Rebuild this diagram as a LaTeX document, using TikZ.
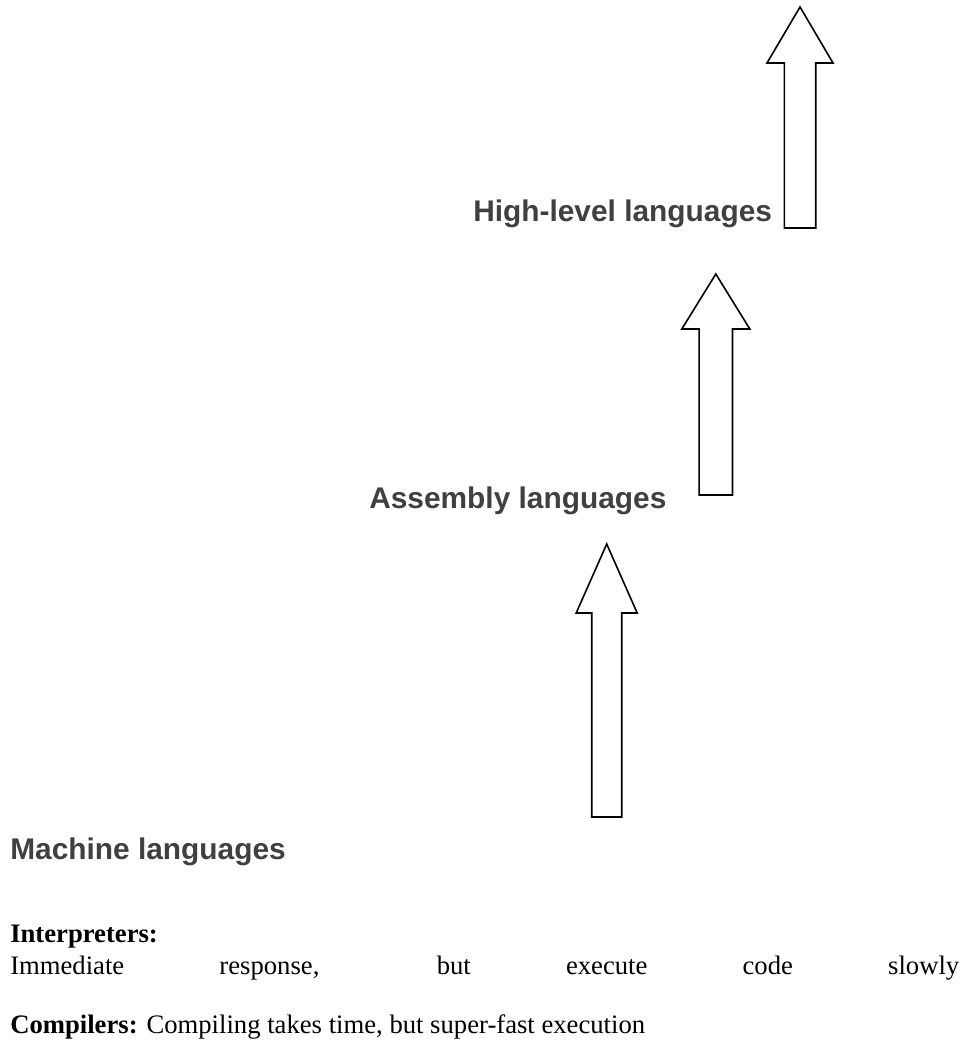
\documentclass[tikz,border=0pt]{standalone}
\usepackage{fontspec}
\setmainfont{Liberation Serif}
\newfontfamily\headfont{Liberation Sans}
\usepackage{xcolor}
\usetikzlibrary{positioning}
\definecolor{headgray}{HTML}{404040}
\tikzset{
  % A level heading (sans, bold, dark grey)
  level/.style={
    font=\headfont\bfseries\fontsize{22.4pt}{27pt}\selectfont, text=headgray,
    anchor=base west, inner sep=0pt},
  % A line of the notes below
  noteline/.style={
    font=\fontsize{20pt}{24pt}\selectfont, anchor=base west, inner sep=0pt},
  % An outlined block arrow pointing up
  blockarrow/.style={draw=black, fill=white, line width=1.2pt, line join=miter},
}
\begin{document}
\begin{tikzpicture}[x=0.75pt, y=-0.75pt]

  % --- Canvas -----------------------------------------------------------
  \fill[white] (0,0) rectangle (970,1044);
  \useasboundingbox (0,0) rectangle (970,1044);

  % --- Block arrows: centre / tip / head base / bottom / half head / half shaft
  \foreach \cx/\tip/\hb/\bot/\hw/\sw in {606.7/544/613/817/30.5/15,
                                         715.8/274/329/495/34/16.7,
                                         800/7/63/228/33/15.7}
    \draw[blockarrow] (\cx,\tip) -- (\cx+\hw,\hb) -- (\cx+\sw,\hb)
      -- (\cx+\sw,\bot) -- (\cx-\sw,\bot) -- (\cx-\sw,\hb)
      -- (\cx-\hw,\hb) -- cycle;

  % --- Levels -----------------------------------------------------------
  \node[level] (high) at (473,222) {High-level languages};
  \node[level] (asm)  at (369,508) {Assembly languages};
  \node[level] (mach) at (10,859)  {Machine languages};

  % --- Notes ------------------------------------------------------------
  \node[noteline] (interp) at (10,942) {\textbf{Interpreters:}};
  \node[noteline] (immed)  at (10,974)
       {\makebox[711.75pt][s]{Immediate response, but execute code slowly}};
  \node[noteline] (comp)   at (10,1033)
       {\textbf{Compilers:} Compiling takes time, but super-fast execution};

\end{tikzpicture}
\end{document}
